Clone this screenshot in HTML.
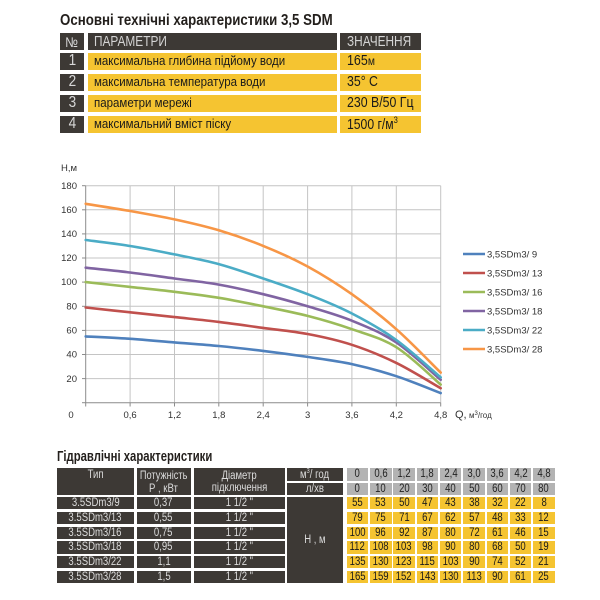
<!DOCTYPE html>
<html><head><meta charset="utf-8">
<style>
*{margin:0;padding:0;box-sizing:border-box}
body{width:600px;height:600px;background:#fff;position:relative;overflow:hidden;font-family:"Liberation Sans","DejaVu Sans",sans-serif}
.a{position:absolute;white-space:nowrap}
.d{position:absolute;background:#3d3935;color:#dcdcdc}
.y{position:absolute;background:#f5c431;color:#1a1a1a}
.g{position:absolute;background:#b3b3b3;color:#222}
.c{display:flex;align-items:center;justify-content:center;white-space:nowrap}
.l{display:flex;align-items:center;white-space:nowrap}
.s{display:inline-block;transform-origin:left center}
.sc{display:inline-block;transform-origin:center center}
.bt .c{font-size:11.5px}
.bt .c span{display:inline-block;transform:scaleX(.83)}
</style></head><body>

<!-- Top title -->
<div class="a" style="left:60px;top:11px;font-size:16px;font-weight:bold;color:#231f1c;line-height:20px"><span class="s" style="transform:scaleX(.83)">Основні технічні характеристики 3,5 SDM</span></div>

<!-- Top table -->
<div class="d c" style="left:60px;top:33px;width:24px;height:17px;font-size:14px;color:#dcdcdc"><span class="sc" style="transform:scaleX(.85)">№</span></div>
<div class="d l" style="left:88px;top:33px;width:249px;height:17px;padding-left:6px;font-size:15px;color:#d4d4d4"><span class="s" style="transform:scaleX(.79)">ПАРАМЕТРИ</span></div>
<div class="d l" style="left:340px;top:33px;width:81px;height:17px;padding-left:7px;font-size:15px;color:#d4d4d4"><span class="s" style="transform:scaleX(.79)">ЗНАЧЕННЯ</span></div>

<div class="d c" style="left:60px;top:52.5px;width:24px;height:17.5px;font-size:16px;color:#d8d8d8"><span class="sc" style="transform:scaleX(.85)">1</span></div>
<div class="y l" style="left:88px;top:52.5px;width:249px;height:17.5px;padding-left:6px;font-size:12.5px"><span class="s" style="transform:scaleX(.92)">максимальна глибина підйому води</span></div>
<div class="y l" style="left:340px;top:52.5px;width:81px;height:17.5px;padding-left:7px;font-size:14.5px"><span class="s" style="transform:scaleX(.86)">165<span style="font-size:12px">м</span></span></div>

<div class="d c" style="left:60px;top:73.5px;width:24px;height:17.5px;font-size:16px;color:#d8d8d8"><span class="sc" style="transform:scaleX(.85)">2</span></div>
<div class="y l" style="left:88px;top:73.5px;width:249px;height:17.5px;padding-left:6px;font-size:12.5px"><span class="s" style="transform:scaleX(.92)">максимальна температура води</span></div>
<div class="y l" style="left:340px;top:73.5px;width:81px;height:17.5px;padding-left:7px;font-size:14.5px"><span class="s" style="transform:scaleX(.85)">35° C</span></div>

<div class="d c" style="left:60px;top:94.5px;width:24px;height:17.5px;font-size:16px;color:#d8d8d8"><span class="sc" style="transform:scaleX(.85)">3</span></div>
<div class="y l" style="left:88px;top:94.5px;width:249px;height:17.5px;padding-left:6px;font-size:12.5px"><span class="s" style="transform:scaleX(.92)">параметри мережі</span></div>
<div class="y l" style="left:340px;top:94.5px;width:81px;height:17.5px;padding-left:7px;font-size:14.5px"><span class="s" style="transform:scaleX(.85)">230 В/50 Гц</span></div>

<div class="d c" style="left:60px;top:115.5px;width:24px;height:17.5px;font-size:16px;color:#d8d8d8"><span class="sc" style="transform:scaleX(.85)">4</span></div>
<div class="y l" style="left:88px;top:115.5px;width:249px;height:17.5px;padding-left:6px;font-size:12.5px"><span class="s" style="transform:scaleX(.92)">максимальний вміст піску</span></div>
<div class="y l" style="left:340px;top:115.5px;width:81px;height:17.5px;padding-left:7px;font-size:14.5px"><span class="s" style="transform:scaleX(.84)">1500 г/м<sup style="font-size:9px">3</sup></span></div>

<!-- Chart -->
<svg class="a" style="left:0;top:0" width="600" height="600" viewBox="0 0 600 600" xmlns="http://www.w3.org/2000/svg">
<g stroke="#c4c4c4" stroke-width="1" fill="none">
<line x1="85.7" y1="185.7" x2="440.7" y2="185.7"/>
<line x1="85.7" y1="209.8" x2="440.7" y2="209.8"/>
<line x1="85.7" y1="233.9" x2="440.7" y2="233.9"/>
<line x1="85.7" y1="258.0" x2="440.7" y2="258.0"/>
<line x1="85.7" y1="282.1" x2="440.7" y2="282.1"/>
<line x1="85.7" y1="306.3" x2="440.7" y2="306.3"/>
<line x1="85.7" y1="330.4" x2="440.7" y2="330.4"/>
<line x1="85.7" y1="354.5" x2="440.7" y2="354.5"/>
<line x1="85.7" y1="378.6" x2="440.7" y2="378.6"/>
<line x1="130.1" y1="185.7" x2="130.1" y2="402.7"/>
<line x1="174.5" y1="185.7" x2="174.5" y2="402.7"/>
<line x1="218.8" y1="185.7" x2="218.8" y2="402.7"/>
<line x1="263.2" y1="185.7" x2="263.2" y2="402.7"/>
<line x1="307.6" y1="185.7" x2="307.6" y2="402.7"/>
<line x1="351.9" y1="185.7" x2="351.9" y2="402.7"/>
<line x1="396.3" y1="185.7" x2="396.3" y2="402.7"/>
<line x1="440.7" y1="185.7" x2="440.7" y2="402.7"/>
</g>
<g stroke="#8c8c8c" stroke-width="1" fill="none">
<line x1="85.7" y1="185.7" x2="85.7" y2="402.7"/>
<line x1="85.7" y1="402.7" x2="440.7" y2="402.7"/>
<line x1="82" y1="185.7" x2="85.7" y2="185.7"/>
<line x1="82" y1="209.8" x2="85.7" y2="209.8"/>
<line x1="82" y1="233.9" x2="85.7" y2="233.9"/>
<line x1="82" y1="258.0" x2="85.7" y2="258.0"/>
<line x1="82" y1="282.1" x2="85.7" y2="282.1"/>
<line x1="82" y1="306.3" x2="85.7" y2="306.3"/>
<line x1="82" y1="330.4" x2="85.7" y2="330.4"/>
<line x1="82" y1="354.5" x2="85.7" y2="354.5"/>
<line x1="82" y1="378.6" x2="85.7" y2="378.6"/>
<line x1="82" y1="402.7" x2="85.7" y2="402.7"/>
<line x1="85.7" y1="402.7" x2="85.7" y2="406.5"/>
<line x1="130.1" y1="402.7" x2="130.1" y2="406.5"/>
<line x1="174.5" y1="402.7" x2="174.5" y2="406.5"/>
<line x1="218.8" y1="402.7" x2="218.8" y2="406.5"/>
<line x1="263.2" y1="402.7" x2="263.2" y2="406.5"/>
<line x1="307.6" y1="402.7" x2="307.6" y2="406.5"/>
<line x1="351.9" y1="402.7" x2="351.9" y2="406.5"/>
<line x1="396.3" y1="402.7" x2="396.3" y2="406.5"/>
<line x1="440.7" y1="402.7" x2="440.7" y2="406.5"/>
</g>
<g fill="none" stroke-width="2.6" stroke-linecap="round" stroke-linejoin="round">
<path stroke="#4F81BD" d="M85.7,336.4 C93.1,336.8 115.3,337.8 130.1,338.8 C144.9,339.8 159.7,341.2 174.5,342.4 C189.3,343.6 204,344.6 218.8,346.0 C233.6,347.4 248.4,349.1 263.2,350.9 C278,352.7 292.8,354.7 307.6,356.9 C322.4,359.1 337.1,360.9 351.9,364.1 C366.7,367.3 381.5,371.4 396.3,376.2 C411.1,381 433.3,390.3 440.7,393.1"/>
<path stroke="#C0504D" d="M85.7,307.5 C93.1,308.3 115.3,310.7 130.1,312.3 C144.9,313.9 159.7,315.5 174.5,317.1 C189.3,318.7 204,320.1 218.8,321.9 C233.6,323.7 248.4,325.9 263.2,327.9 C278,329.9 292.8,331.2 307.6,334.0 C322.4,336.8 337.1,340.0 351.9,344.8 C366.7,349.6 381.5,355.7 396.3,362.9 C411.1,370.1 433.3,384.0 440.7,388.2"/>
<path stroke="#9BBB59" d="M85.7,282.1 C93.1,282.9 115.3,285.3 130.1,286.9 C144.9,288.5 159.7,290.0 174.5,291.8 C189.3,293.6 204,295.4 218.8,297.8 C233.6,300.2 248.4,303.3 263.2,306.3 C278,309.3 292.8,312.1 307.6,315.9 C322.4,319.7 337.1,324.0 351.9,329.2 C366.7,334.4 381.5,338.0 396.3,347.2 C411.1,356.4 433.3,378.4 440.7,384.6"/>
<path stroke="#8064A2" d="M85.7,267.7 C93.1,268.5 115.3,270.7 130.1,272.5 C144.9,274.3 159.7,276.5 174.5,278.5 C189.3,280.5 204,282.0 218.8,284.6 C233.6,287.2 248.4,290.6 263.2,294.2 C278,297.8 292.8,301.9 307.6,306.3 C322.4,310.7 337.1,314.7 351.9,320.7 C366.7,326.7 381.5,332.6 396.3,342.4 C411.1,352.3 433.3,373.6 440.7,379.8"/>
<path stroke="#4BACC6" d="M85.7,240.0 C93.1,241.0 115.3,243.6 130.1,246.0 C144.9,248.4 159.7,251.4 174.5,254.4 C189.3,257.4 204,260.1 218.8,264.1 C233.6,268.1 248.4,273.5 263.2,278.5 C278,283.5 292.8,288.4 307.6,294.2 C322.4,300.0 337.1,305.9 351.9,313.5 C366.7,321.1 381.5,329.4 396.3,340.0 C411.1,350.7 433.3,371.2 440.7,377.4"/>
<path stroke="#F79646" d="M85.7,203.8 C93.1,205.0 115.3,208.4 130.1,211.0 C144.9,213.6 159.7,216.2 174.5,219.4 C189.3,222.6 204,225.9 218.8,230.3 C233.6,234.7 248.4,239.9 263.2,245.9 C278,251.9 292.8,258.5 307.6,266.5 C322.4,274.6 337.1,283.8 351.9,294.2 C366.7,304.6 381.5,316.1 396.3,329.2 C411.1,342.3 433.3,365.4 440.7,372.6"/>
</g>
<g font-family="Liberation Sans, sans-serif" font-size="9.5" fill="#333" text-anchor="end">
<text x="77" y="189">180</text>
<text x="77" y="213">160</text>
<text x="77" y="237">140</text>
<text x="77" y="261">120</text>
<text x="77" y="285">100</text>
<text x="77" y="309.5">80</text>
<text x="77" y="333.5">60</text>
<text x="77" y="357.5">40</text>
<text x="77" y="382">20</text>
</g>
<text x="61" y="171" font-family="Liberation Sans, sans-serif" font-size="9.5" fill="#333">Н,м</text>
<g font-family="Liberation Sans, sans-serif" font-size="9.5" fill="#333" text-anchor="middle">
<text x="71" y="418">0</text>
<text x="130.1" y="418">0,6</text>
<text x="174.5" y="418">1,2</text>
<text x="218.8" y="418">1,8</text>
<text x="263.2" y="418">2,4</text>
<text x="307.6" y="418">3</text>
<text x="351.9" y="418">3,6</text>
<text x="396.3" y="418">4,2</text>
<text x="440.7" y="418">4,8</text>
</g>
<text x="455" y="418" font-family="Liberation Sans, sans-serif" font-size="11" fill="#333">Q,</text>
<text x="469" y="418" font-family="Liberation Sans, sans-serif" font-size="8" fill="#333">м<tspan font-size="6" dy="-3">3</tspan><tspan dy="3">/год</tspan></text>
<g stroke-width="2.6">
<line x1="463" y1="254" x2="485" y2="254" stroke="#4F81BD"/>
<line x1="463" y1="273" x2="485" y2="273" stroke="#C0504D"/>
<line x1="463" y1="292" x2="485" y2="292" stroke="#9BBB59"/>
<line x1="463" y1="311" x2="485" y2="311" stroke="#8064A2"/>
<line x1="463" y1="330" x2="485" y2="330" stroke="#4BACC6"/>
<line x1="463" y1="349" x2="485" y2="349" stroke="#F79646"/>
</g>
<g font-family="Liberation Sans, sans-serif" font-size="9.5" fill="#333">
<text x="487" y="257.5">3,5SDm3/ 9</text>
<text x="487" y="276.5">3,5SDm3/ 13</text>
<text x="487" y="295.5">3,5SDm3/ 16</text>
<text x="487" y="314.5">3,5SDm3/ 18</text>
<text x="487" y="333.5">3,5SDm3/ 22</text>
<text x="487" y="352.5">3,5SDm3/ 28</text>
</g>
</svg>

<!-- Bottom title -->
<div class="a" style="left:57px;top:448px;font-size:14.5px;font-weight:bold;color:#231f1c;line-height:18px"><span class="s" style="transform:scaleX(.78)">Гідравлічні характеристики</span></div>

<!-- Bottom table -->
<div class="bt">
<div class="d" style="left:56.7px;top:468.3px;width:77.3px;height:26.7px"></div>
<div class="a c" style="left:56.7px;top:468.3px;width:77.3px;height:13px;color:#dcdcdc"><span>Тип</span></div>
<div class="d" style="left:136.7px;top:468.3px;width:54px;height:26.7px"></div>
<div class="a c" style="left:136.7px;top:469.5px;width:54px;height:13px;color:#dcdcdc"><span style="transform:scaleX(.8)">Потужність</span></div>
<div class="a c" style="left:136.7px;top:482px;width:54px;height:13px;color:#dcdcdc"><span>Р , кВт</span></div>
<div class="d" style="left:194px;top:468.3px;width:91px;height:26.7px"></div>
<div class="a c" style="left:194px;top:469.5px;width:91px;height:13px;color:#dcdcdc"><span>Діаметр</span></div>
<div class="a c" style="left:194px;top:481px;width:91px;height:13px;color:#dcdcdc"><span>підключення</span></div>
<div class="d c" style="left:286.7px;top:468.3px;width:56.6px;height:12.4px"><span>м<sup style="font-size:7px">3</sup>/ год</span></div>
<div class="d c" style="left:286.7px;top:482.7px;width:56.6px;height:12.3px"><span>л/хв</span></div>
<div class="d c" style="left:286.7px;top:497.3px;width:56.6px;height:85.4px"><span>Н , м</span></div>

<div class="d c" style="left:56.7px;top:497.3px;width:77.3px;height:12.2px"><span>3.5SDm3/9</span></div>
<div class="d c" style="left:136.7px;top:497.3px;width:54px;height:12.2px"><span>0,37</span></div>
<div class="d c" style="left:194px;top:497.3px;width:91px;height:12.2px"><span>1 1/2 "</span></div>
<div class="d c" style="left:56.7px;top:512px;width:77.3px;height:12.2px"><span>3.5SDm3/13</span></div>
<div class="d c" style="left:136.7px;top:512px;width:54px;height:12.2px"><span>0,55</span></div>
<div class="d c" style="left:194px;top:512px;width:91px;height:12.2px"><span>1 1/2 "</span></div>
<div class="d c" style="left:56.7px;top:526.7px;width:77.3px;height:12.2px"><span>3.5SDm3/16</span></div>
<div class="d c" style="left:136.7px;top:526.7px;width:54px;height:12.2px"><span>0,75</span></div>
<div class="d c" style="left:194px;top:526.7px;width:91px;height:12.2px"><span>1 1/2 "</span></div>
<div class="d c" style="left:56.7px;top:541.4px;width:77.3px;height:12.2px"><span>3.5SDm3/18</span></div>
<div class="d c" style="left:136.7px;top:541.4px;width:54px;height:12.2px"><span>0,95</span></div>
<div class="d c" style="left:194px;top:541.4px;width:91px;height:12.2px"><span>1 1/2 "</span></div>
<div class="d c" style="left:56.7px;top:556.1px;width:77.3px;height:12.2px"><span>3.5SDm3/22</span></div>
<div class="d c" style="left:136.7px;top:556.1px;width:54px;height:12.2px"><span>1,1</span></div>
<div class="d c" style="left:194px;top:556.1px;width:91px;height:12.2px"><span>1 1/2 "</span></div>
<div class="d c" style="left:56.7px;top:570.8px;width:77.3px;height:12.2px"><span>3.5SDm3/28</span></div>
<div class="d c" style="left:136.7px;top:570.8px;width:54px;height:12.2px"><span>1,5</span></div>
<div class="d c" style="left:194px;top:570.8px;width:91px;height:12.2px"><span>1 1/2 "</span></div>

<!-- gray header cells -->
<div class="g c" style="left:346.7px;top:468.3px;width:21.5px;height:12.4px"><span>0</span></div>
<div class="g c" style="left:370px;top:468.3px;width:21.5px;height:12.4px"><span>0,6</span></div>
<div class="g c" style="left:393.3px;top:468.3px;width:21.5px;height:12.4px"><span>1,2</span></div>
<div class="g c" style="left:416.6px;top:468.3px;width:21.5px;height:12.4px"><span>1,8</span></div>
<div class="g c" style="left:439.9px;top:468.3px;width:21.5px;height:12.4px"><span>2,4</span></div>
<div class="g c" style="left:463.2px;top:468.3px;width:21.5px;height:12.4px"><span>3,0</span></div>
<div class="g c" style="left:486.5px;top:468.3px;width:21.5px;height:12.4px"><span>3,6</span></div>
<div class="g c" style="left:509.8px;top:468.3px;width:21.5px;height:12.4px"><span>4,2</span></div>
<div class="g c" style="left:533.1px;top:468.3px;width:21.5px;height:12.4px"><span>4,8</span></div>

<div class="g c" style="left:346.7px;top:482.7px;width:21.5px;height:12.3px"><span>0</span></div>
<div class="g c" style="left:370px;top:482.7px;width:21.5px;height:12.3px"><span>10</span></div>
<div class="g c" style="left:393.3px;top:482.7px;width:21.5px;height:12.3px"><span>20</span></div>
<div class="g c" style="left:416.6px;top:482.7px;width:21.5px;height:12.3px"><span>30</span></div>
<div class="g c" style="left:439.9px;top:482.7px;width:21.5px;height:12.3px"><span>40</span></div>
<div class="g c" style="left:463.2px;top:482.7px;width:21.5px;height:12.3px"><span>50</span></div>
<div class="g c" style="left:486.5px;top:482.7px;width:21.5px;height:12.3px"><span>60</span></div>
<div class="g c" style="left:509.8px;top:482.7px;width:21.5px;height:12.3px"><span>70</span></div>
<div class="g c" style="left:533.1px;top:482.7px;width:21.5px;height:12.3px"><span>80</span></div>

<!-- yellow data rows -->
<div class="y c" style="left:346.7px;top:497.3px;width:21.5px;height:12.2px"><span>55</span></div>
<div class="y c" style="left:370px;top:497.3px;width:21.5px;height:12.2px"><span>53</span></div>
<div class="y c" style="left:393.3px;top:497.3px;width:21.5px;height:12.2px"><span>50</span></div>
<div class="y c" style="left:416.6px;top:497.3px;width:21.5px;height:12.2px"><span>47</span></div>
<div class="y c" style="left:439.9px;top:497.3px;width:21.5px;height:12.2px"><span>43</span></div>
<div class="y c" style="left:463.2px;top:497.3px;width:21.5px;height:12.2px"><span>38</span></div>
<div class="y c" style="left:486.5px;top:497.3px;width:21.5px;height:12.2px"><span>32</span></div>
<div class="y c" style="left:509.8px;top:497.3px;width:21.5px;height:12.2px"><span>22</span></div>
<div class="y c" style="left:533.1px;top:497.3px;width:21.5px;height:12.2px"><span>8</span></div>

<div class="y c" style="left:346.7px;top:512px;width:21.5px;height:12.2px"><span>79</span></div>
<div class="y c" style="left:370px;top:512px;width:21.5px;height:12.2px"><span>75</span></div>
<div class="y c" style="left:393.3px;top:512px;width:21.5px;height:12.2px"><span>71</span></div>
<div class="y c" style="left:416.6px;top:512px;width:21.5px;height:12.2px"><span>67</span></div>
<div class="y c" style="left:439.9px;top:512px;width:21.5px;height:12.2px"><span>62</span></div>
<div class="y c" style="left:463.2px;top:512px;width:21.5px;height:12.2px"><span>57</span></div>
<div class="y c" style="left:486.5px;top:512px;width:21.5px;height:12.2px"><span>48</span></div>
<div class="y c" style="left:509.8px;top:512px;width:21.5px;height:12.2px"><span>33</span></div>
<div class="y c" style="left:533.1px;top:512px;width:21.5px;height:12.2px"><span>12</span></div>

<div class="y c" style="left:346.7px;top:526.7px;width:21.5px;height:12.2px"><span>100</span></div>
<div class="y c" style="left:370px;top:526.7px;width:21.5px;height:12.2px"><span>96</span></div>
<div class="y c" style="left:393.3px;top:526.7px;width:21.5px;height:12.2px"><span>92</span></div>
<div class="y c" style="left:416.6px;top:526.7px;width:21.5px;height:12.2px"><span>87</span></div>
<div class="y c" style="left:439.9px;top:526.7px;width:21.5px;height:12.2px"><span>80</span></div>
<div class="y c" style="left:463.2px;top:526.7px;width:21.5px;height:12.2px"><span>72</span></div>
<div class="y c" style="left:486.5px;top:526.7px;width:21.5px;height:12.2px"><span>61</span></div>
<div class="y c" style="left:509.8px;top:526.7px;width:21.5px;height:12.2px"><span>46</span></div>
<div class="y c" style="left:533.1px;top:526.7px;width:21.5px;height:12.2px"><span>15</span></div>

<div class="y c" style="left:346.7px;top:541.4px;width:21.5px;height:12.2px"><span>112</span></div>
<div class="y c" style="left:370px;top:541.4px;width:21.5px;height:12.2px"><span>108</span></div>
<div class="y c" style="left:393.3px;top:541.4px;width:21.5px;height:12.2px"><span>103</span></div>
<div class="y c" style="left:416.6px;top:541.4px;width:21.5px;height:12.2px"><span>98</span></div>
<div class="y c" style="left:439.9px;top:541.4px;width:21.5px;height:12.2px"><span>90</span></div>
<div class="y c" style="left:463.2px;top:541.4px;width:21.5px;height:12.2px"><span>80</span></div>
<div class="y c" style="left:486.5px;top:541.4px;width:21.5px;height:12.2px"><span>68</span></div>
<div class="y c" style="left:509.8px;top:541.4px;width:21.5px;height:12.2px"><span>50</span></div>
<div class="y c" style="left:533.1px;top:541.4px;width:21.5px;height:12.2px"><span>19</span></div>

<div class="y c" style="left:346.7px;top:556.1px;width:21.5px;height:12.2px"><span>135</span></div>
<div class="y c" style="left:370px;top:556.1px;width:21.5px;height:12.2px"><span>130</span></div>
<div class="y c" style="left:393.3px;top:556.1px;width:21.5px;height:12.2px"><span>123</span></div>
<div class="y c" style="left:416.6px;top:556.1px;width:21.5px;height:12.2px"><span>115</span></div>
<div class="y c" style="left:439.9px;top:556.1px;width:21.5px;height:12.2px"><span>103</span></div>
<div class="y c" style="left:463.2px;top:556.1px;width:21.5px;height:12.2px"><span>90</span></div>
<div class="y c" style="left:486.5px;top:556.1px;width:21.5px;height:12.2px"><span>74</span></div>
<div class="y c" style="left:509.8px;top:556.1px;width:21.5px;height:12.2px"><span>52</span></div>
<div class="y c" style="left:533.1px;top:556.1px;width:21.5px;height:12.2px"><span>21</span></div>

<div class="y c" style="left:346.7px;top:570.8px;width:21.5px;height:12.2px"><span>165</span></div>
<div class="y c" style="left:370px;top:570.8px;width:21.5px;height:12.2px"><span>159</span></div>
<div class="y c" style="left:393.3px;top:570.8px;width:21.5px;height:12.2px"><span>152</span></div>
<div class="y c" style="left:416.6px;top:570.8px;width:21.5px;height:12.2px"><span>143</span></div>
<div class="y c" style="left:439.9px;top:570.8px;width:21.5px;height:12.2px"><span>130</span></div>
<div class="y c" style="left:463.2px;top:570.8px;width:21.5px;height:12.2px"><span>113</span></div>
<div class="y c" style="left:486.5px;top:570.8px;width:21.5px;height:12.2px"><span>90</span></div>
<div class="y c" style="left:509.8px;top:570.8px;width:21.5px;height:12.2px"><span>61</span></div>
<div class="y c" style="left:533.1px;top:570.8px;width:21.5px;height:12.2px"><span>25</span></div>
</div>

</body></html>
